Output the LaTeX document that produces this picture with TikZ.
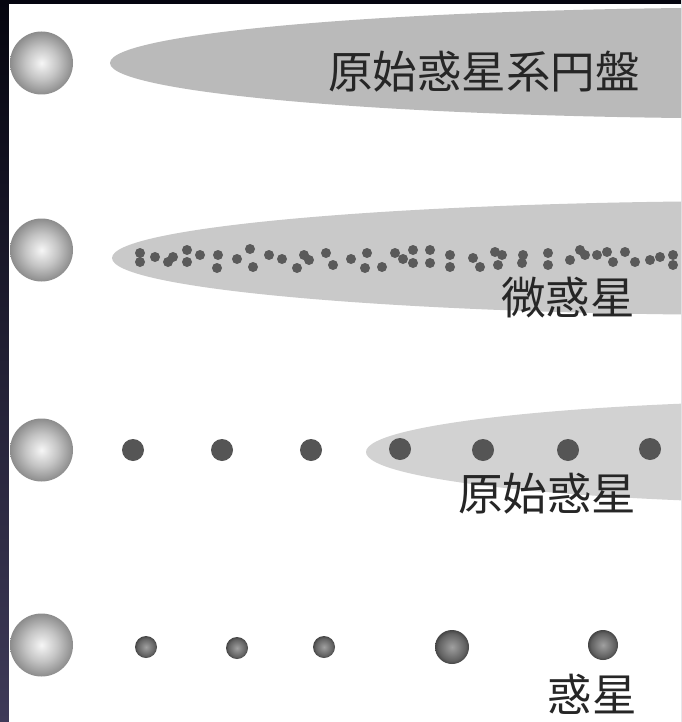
\documentclass[tikz,border=0pt]{standalone}
\usepackage{fontspec}
\newfontfamily\cjk{Noto Sans CJK JP}
\definecolor{frametop}{HTML}{05050F}
\definecolor{framebot}{HTML}{3E3A58}
\definecolor{diskA}{HTML}{BABABA}
\definecolor{diskB}{HTML}{C9C9C9}
\definecolor{diskC}{HTML}{D2D2D2}
\definecolor{grain}{HTML}{5A5A5A}
\definecolor{core}{HTML}{555555}
\definecolor{labeltext}{HTML}{262626}
\definecolor{ballhi}{HTML}{F6F6F6}
\definecolor{ballmid}{HTML}{C4C4C4}
\definecolor{ballrim}{HTML}{8C8C8C}
\definecolor{smallhi}{HTML}{A0A0A0}
\definecolor{smallrim}{HTML}{454545}
\pgfdeclareradialshading{starball}{\pgfpoint{0bp}{0bp}}{color(0bp)=(ballhi); color(13bp)=(ballmid); color(25bp)=(ballrim); color(50bp)=(ballrim)}
\pgfdeclareradialshading{planetball}{\pgfpoint{0bp}{0bp}}{color(0bp)=(smallhi); color(20bp)=(smallrim!85); color(25bp)=(smallrim); color(50bp)=(smallrim)}
\tikzset{
  star/.style={circle, inner sep=0pt, minimum size=63pt, shade, shading=starball},
  grainpt/.style={circle, inner sep=0pt, minimum size=10pt, fill=grain},
  embryo/.style={circle, inner sep=0pt, minimum size=22pt, fill=core},
  planet/.style={circle, inner sep=0pt, minimum size=#1, shade, shading=planetball},
  caption/.style={inner sep=0pt, text=labeltext, font=\cjk\fontsize{44.5}{46}\selectfont}
}
\begin{document}
\begin{tikzpicture}[x=1pt, y=-1pt]
  \useasboundingbox (0,0) rectangle (681,722);
  % dark frame with white panel
  \shade[top color=frametop, bottom color=framebot] (0,0) rectangle (681,722);
  \fill[white] (9,4) rectangle (681,722);
  \begin{scope}
    \clip (9,4) rectangle (681,722);
    % gas disks
    \fill[diskA] (770,63) ellipse [x radius=660, y radius=55.5];
    \fill[diskB] (770,258) ellipse [x radius=658, y radius=57];
    \fill[diskC] (866,452) ellipse [x radius=500, y radius=52];
  \end{scope}
  % central stars
  \node[star] (s1) at (41.5,63) {};
  \node[star] (s2) at (41.5,250) {};
  \node[star] (s3) at (41.5,450) {};
  \node[star] (s4) at (41.5,645) {};
  % planetesimals
  \foreach \px/\py [count=\i] in {140/253,140/262,155/257,168/262,173/257,187/250,187/262,200/255,
      218/255,217/268,237/259,250/249,253/267,269/255,282/259,297/268,304/255,309/260,326/253,
      333/265,351/259,367/253,365/268,382/267,395/253,403/259,413/250,413/263,430/250,430/263,
      450/255,450/267,473/258,480/267,495/252,502/255,498/265,523/255,522/263,548/253,548/265,
      570/260,580/250,585/255,597/255,607/252,613/262,625/252,635/262,650/260,660/257,673/255,673/265}
    \node[grainpt] (g\i) at (\px,\py) {};
  % protoplanets
  \foreach \px/\py [count=\i] in {133/450,222/450,311/450,400/449,483/450,568/450,650/449}
    \node[embryo] (e\i) at (\px,\py) {};
  % planets
  \node[planet=22pt] (p1) at (146,647) {};
  \node[planet=22pt] (p2) at (237,648) {};
  \node[planet=22pt] (p3) at (324,647) {};
  \node[planet=34pt] (p4) at (452,647) {};
  \node[planet=30pt] (p5) at (603,645) {};
  % captions
  \node[caption] (t1) at (484,72) {原始惑星系円盤};
  \node[caption] (t2) at (568,298) {微惑星};
  \node[caption] (t3) at (547,494) {原始惑星};
  \node[caption] (t4) at (592,694) {惑星};
\end{tikzpicture}
\end{document}
